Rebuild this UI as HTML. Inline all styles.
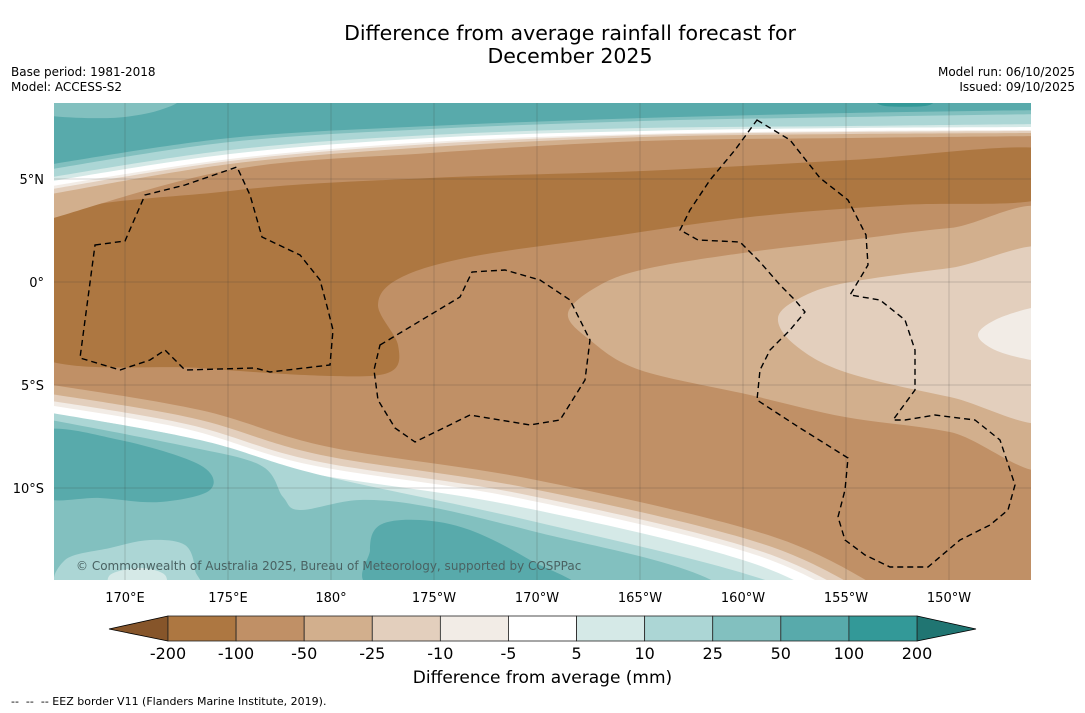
<!DOCTYPE html>
<html><head><meta charset="utf-8"><style>
body{margin:0;background:#fff;font-family:"DejaVu Sans","Liberation Sans",sans-serif;}
#wrap{position:relative;width:1085px;height:713px;overflow:hidden;background:#fff}
.t{position:absolute;white-space:nowrap;color:#000}
</style></head><body>
<div id="wrap">
<div class="t" style="left:0;width:1140px;text-align:center;top:22px;font-size:20.5px;line-height:23px">Difference from average rainfall forecast for<br>December 2025</div>
<div class="t" style="left:11px;top:65px;font-size:12px;line-height:15px">Base period: 1981-2018<br>Model: ACCESS-S2</div>
<div class="t" style="right:10px;top:65px;font-size:12px;line-height:15px;text-align:right">Model run: 06/10/2025<br>Issued: 09/10/2025</div>
<svg id="svg" width="1085" height="713" style="position:absolute;left:0;top:0"></svg>
<div class="t" style="left:0;width:1085px;text-align:center;top:668px;font-size:17px">Difference from average (mm)</div>
<div class="t" style="left:11px;top:695px;font-size:11px">--&nbsp; --&nbsp; -- EEZ border V11 (Flanders Marine Institute, 2019).</div>
</div>
<script>
const levels=["-200","-100","-50","-25","-10","-5","5","10","25","50","100","200"];
const colors=["#ad7741","#c09066","#d2af8d","#e3cfbd","#f2ece6","#ffffff","#d5e9e7","#acd6d5","#82c0bf","#58aaab","#339998"];
const lonTicks=["170°E","175°E","180°","175°W","170°W","165°W","160°W","155°W","150°W"];
const latTicks=["5°N","0°","5°S","10°S"];
const lonVals=[170,175,180,185,190,195,200,205,210];
const latVals=[5,0,-5,-10];
const FF="DejaVu Sans, Liberation Sans, sans-serif";
const NS="http://www.w3.org/2000/svg";
const svg=document.getElementById('svg');
const X0=54,X1=1031,Y0=103,Y1=580;
const lonX=l=>125+(l-170)*20.6;
const latY=l=>282-l*20.6;
function mk(tag,attrs,parent){const e=document.createElementNS(NS,tag);for(const k in attrs)e.setAttribute(k,attrs[k]);(parent||svg).appendChild(e);return e;}
function smooth(pts,closed){
  let d="M"+pts[0][0]+","+pts[0][1];const n=pts.length;
  for(let i=0;i<(closed?n:n-1);i++){
    const p0=pts[(i-1+n)%n],p1=pts[i],p2=pts[(i+1)%n],p3=pts[(i+2)%n];
    const a=closed||i>0?p0:p1,b=closed||i<n-2?p3:p2;
    d+=" C"+(p1[0]+(p2[0]-a[0])/6)+","+(p1[1]+(p2[1]-a[1])/6)+" "+(p2[0]-(b[0]-p1[0])/6)+","+(p2[1]-(b[1]-p1[1])/6)+" "+p2[0]+","+p2[1];
  }
  return d+(closed?"Z":"");
}
const defs=mk('defs',{});const cp=mk('clipPath',{id:'mc'},defs);mk('rect',{x:X0,y:Y0,width:X1-X0,height:Y1-Y0},cp);
const g=mk('g',{'clip-path':'url(#mc)'});


mk('rect',{x:X0,y:Y0,width:X1-X0,height:Y1-Y0,fill:colors[1]},g);
const xs=[40,230,430,643,850,1045];
function above(ys,col,name){const pts=xs.map((x,i)=>[x,ys[i]]);let d=smooth(pts,false)+" L1045,90 L40,90Z";const p=mk('path',{d:d,fill:col},g);}
function below(pts,col,name){let d=smooth(pts,false)+" L1045,600 L40,600Z";const p=mk('path',{d:d,fill:col},g);}
function blob(pts,col,name){const p=mk('path',{d:smooth(pts,true),fill:col},g);}
blob([[30,226],[230,191],[430,178],[643,171],[850,160],[1045,149],[1045,198],[900,205],[750,217],[600,238],[470,257],[400,278],[378,305],[398,345],[390,372],[330,376],[200,368],[30,352]],colors[0],'band-below-100');
blob([[568,313],[600,285],[650,268],[750,252],[850,240],[950,228],[1060,222],[1060,460],[950,432],[845,417],[750,395],[640,370],[590,340]],colors[2],'band-50-25');
blob([[778,318],[800,298],[845,283],[950,268],[1060,255],[1060,416],[950,397],[845,372],[795,345]],colors[3],'band-25-10');
blob([[978,335],[995,320],[1031,308],[1060,305],[1060,362],[1031,360],[995,350]],colors[4],'band-10-5');
above([222,170,153,141,138,136],colors[2],'top-band-50');
above([196,164,147,137,134,133],colors[3],'top-band-25');
above([191,161,144,135,132,131],colors[4],'top-band-10');
above([188,159,142,134,131,130],colors[5],'top-band-white');
above([183,154,138,131,128,127],colors[6],'top-band-5');
above([179,150,135,128,126,124],colors[7],'top-band-10t');
above([171,142,129,121,117,114],colors[8],'top-band-25t');
above([166,138,126,118,113,110],colors[9],'top-band-50t');
blob([[40,98],[170,98],[160,110],[110,118],[40,114]],colors[8],'top-left-patch');
blob([[880,100],[930,100],[925,106],[885,106]],colors[10],'top-right-patch');
const bx=[[40,383],[200,410],[329,447],[536,480],[774,537],[900,600]];
function shiftB(dy,dx){return bx.map(p=>[p[0]-(dx||0),p[1]+dy]);}
below(shiftB(0),colors[2],'bottom-band-50');
below(shiftB(8,8),colors[3],'bottom-band-25');
below(shiftB(14,14),colors[4],'bottom-band-10');
below(shiftB(18,18),colors[5],'bottom-band-white');
below(shiftB(25,25),colors[6],'bottom-band-5');
below([[40,411],[200,440],[320,475],[536,522],[774,583],[900,650]],colors[7],'bottom-band-10t');
below([[40,418],[180,445],[260,465],[283,497],[300,510],[360,500],[430,507],[536,532],[700,575],[800,640]],colors[8],'bottom-band-25t');
blob([[40,432],[120,440],[200,465],[210,490],[160,502],[100,498],[40,495]],colors[9],'teal-patch-left');
blob([[380,525],[420,520],[470,530],[530,560],[570,590],[380,590],[370,550]],colors[9],'teal-patch-bottom');
blob([[65,560],[110,548],[150,540],[185,545],[195,570],[190,590],[65,590]],colors[7],'light-patch-bottom');
blob([[110,575],[140,568],[165,575],[160,590],[115,590]],colors[6],'lighter-patch-bottom');
lonVals.forEach((l,i)=>{const x=lonX(l);const ln=mk('line',{x1:x,x2:x,y1:Y0,y2:Y1,stroke:'#333','stroke-width':0.5,'stroke-opacity':0.4},g);
 const t=mk('text',{x:x,y:602,'font-size':13,'text-anchor':'middle','font-family':FF});t.textContent=lonTicks[i];});
latVals.forEach((l,i)=>{const y=latY(l);const ln=mk('line',{x1:X0,x2:X1,y1:y,y2:y,stroke:'#333','stroke-width':0.5,'stroke-opacity':0.4},g);
 const t=mk('text',{x:44,y:y+5,'font-size':13,'text-anchor':'end','font-family':FF});t.textContent=latTicks[i];});
const eez=[
[[95,245],[125,241],[145,195],[185,185],[237,167],[250,195],[262,237],[300,255],[320,280],[328,310],[333,330],[330,365],[270,372],[255,368],[185,370],[165,350],[150,360],[120,370],[80,358]],
[[380,345],[460,297],[472,272],[505,270],[540,280],[570,300],[590,340],[585,380],[560,420],[530,425],[470,415],[415,442],[395,428],[378,400],[374,370]],
[[757,120],[790,140],[820,178],[848,200],[866,235],[868,265],[850,295],[880,300],[905,320],[915,350],[915,390],[893,420],[905,420],[935,415],[975,420],[1000,440],[1015,485],[1008,510],[990,525],[960,540],[928,567],[890,567],[865,555],[845,540],[838,517],[845,490],[848,458],[800,428],[757,400],[760,370],[770,350],[790,330],[805,312],[795,300],[780,285],[760,262],[740,242],[698,240],[680,230],[690,210],[710,180],[735,150]]];
eez.forEach(pts=>{const p=mk('polygon',{points:pts.map(q=>q.join(',')).join(' '),fill:'none',stroke:'#000','stroke-width':1.4,'stroke-dasharray':'6,4'},g);});
const cr=mk('text',{x:76,y:570,'font-size':12,fill:'#4a6262','font-family':FF},g);cr.textContent="© Commonwealth of Australia 2025, Bureau of Meteorology, supported by COSPPac";


const CB0=168,CB1=917,CBy=616,CBh=25,w=(CB1-CB0)/colors.length;
const lt=mk('polygon',{points:`109,629 ${CB0},${CBy} ${CB0},${CBy+CBh}`,fill:'#86552a',stroke:'#000','stroke-width':0.8});

const rt=mk('polygon',{points:`976,629 ${CB1},${CBy} ${CB1},${CBy+CBh}`,fill:'#207572',stroke:'#000','stroke-width':0.8});

colors.forEach((c,i)=>{const r=mk('rect',{x:CB0+i*w,y:CBy,width:w,height:CBh,fill:c,stroke:'#222','stroke-width':0.8});});
levels.forEach((l,i)=>{const t=mk('text',{x:CB0+i*w,y:659,'font-size':16,'text-anchor':'middle','font-family':FF});t.textContent=l;});
</script>
</body></html>
